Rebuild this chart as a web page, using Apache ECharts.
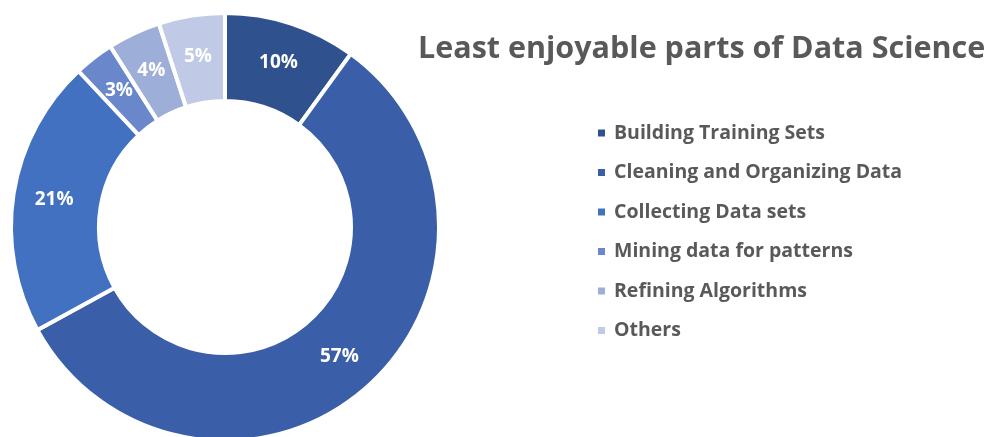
<!DOCTYPE html>
<html>
<head>
<meta charset="utf-8">
<script src="https://cdn.jsdelivr.net/npm/echarts@6/dist/echarts.min.js"></script>
<style>
  html, body { margin: 0; padding: 0; background: #fff; }
  #chart { width: 995px; height: 437px; }
</style>
</head>
<body>
<div id="chart"></div>
<script>
// Survey shares of the least enjoyable data science tasks
const categories = [
  'Building Training Sets',
  'Cleaning and Organizing Data',
  'Collecting Data sets',
  'Mining data for patterns',
  'Refining Algorithms',
  'Others'
];
const shares = [10, 57, 21, 3, 4, 5];
const sliceColors = ['#2F528F', '#3A5FA8', '#4271C1', '#6A87CC', '#9DAED9', '#C0CAE6'];

const chart = echarts.init(document.getElementById('chart'), null, { renderer: 'canvas' });

chart.setOption({
  animation: false,
  backgroundColor: '#ffffff',
  title: {
    text: 'Least enjoyable parts of Data Science',
    left: 413,
    top: 29,
    textStyle: {
      fontFamily: 'Open Sans',
      fontWeight: 'bold',
      fontSize: 30.5,
      color: '#595959'
    }
  },
  legend: {
    orient: 'vertical',
    left: 596,
    top: 123,
    padding: 0,
    itemWidth: 9,
    itemHeight: 9,
    itemGap: 19.5,
    icon: 'rect',
    data: categories,
    textStyle: {
      fontFamily: 'Open Sans',
      fontWeight: 'bold',
      fontSize: 19.5,
      color: '#595959',
      padding: [0, 0, 0, 3]
    }
  },
  series: [{
    type: 'pie',
    center: [225, 227],
    radius: [126, 214],
    startAngle: 90,
    clockwise: true,
    avoidLabelOverlap: false,
    itemStyle: { borderColor: '#ffffff', borderWidth: 4 },
    label: {
      show: true,
      position: 'inside',
      formatter: '{c}%',
      color: '#ffffff',
      fontFamily: 'Open Sans',
      fontWeight: 'bold',
      fontSize: 19,
      // nudge the value text slightly lower within its segment
      padding: [7, 0, 0, 0]
    },
    labelLine: { show: false },
    emphasis: { disabled: true },
    data: categories.map((name, i) => ({
      name: name,
      value: shares[i],
      itemStyle: { color: sliceColors[i] }
    }))
  }]
});
</script>
</body>
</html>
